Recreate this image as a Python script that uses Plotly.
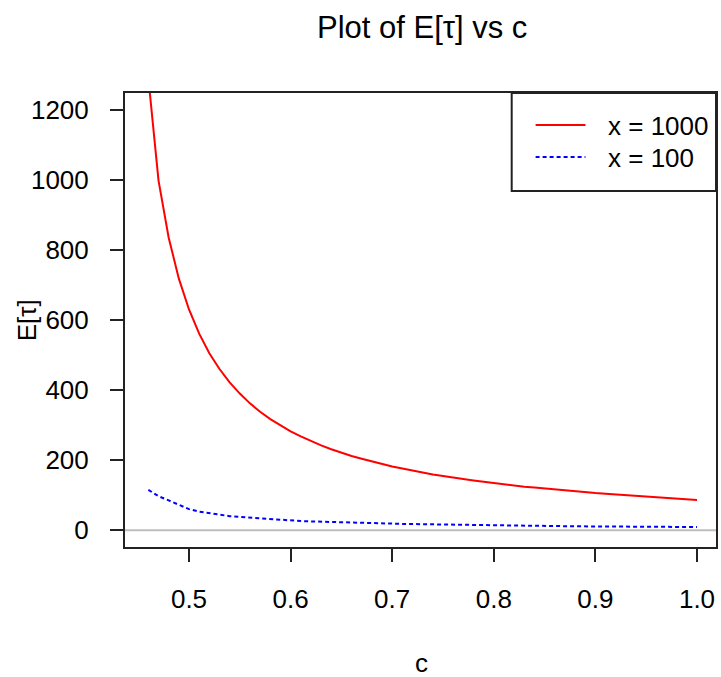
import plotly.graph_objects as go

# ---- data ----
c_vals = [0.46, 0.47, 0.48, 0.49, 0.50, 0.51, 0.52, 0.53, 0.54, 0.55,
          0.56, 0.57, 0.58, 0.59, 0.60, 0.61, 0.62, 0.63, 0.64, 0.65,
          0.66, 0.67, 0.68, 0.69, 0.70, 0.71, 0.72, 0.73, 0.74, 0.75,
          0.76, 0.77, 0.78, 0.79, 0.80, 0.81, 0.82, 0.83, 0.84, 0.85,
          0.86, 0.87, 0.88, 0.89, 0.90, 0.91, 0.92, 0.93, 0.94, 0.95,
          0.96, 0.97, 0.98, 0.99, 1.00]
e_tau_x1000 = [1290, 998, 835, 718, 630, 561, 505, 460, 422, 390,
               362, 338, 317, 299, 282, 268, 254, 242, 231, 221,
               212, 204, 196, 189, 182, 176, 170, 164, 159, 155,
               150, 146, 142, 138, 134, 131, 128, 124, 122, 119,
               116, 113, 111, 109, 106, 104, 102, 100, 98, 96,
               95, 93, 91, 89, 86]
e_tau_x100 = [115, 97, 85, 73, 60, 53, 48, 44, 40, 38,
              36, 33, 30, 29, 28, 26, 25, 24, 23, 22,
              21, 20, 19.5, 19, 18.5, 18, 17.5, 17, 16, 15.5,
              15, 14.7, 14.3, 14, 13.6, 13.3, 13, 12.6, 12.3, 12,
              11.7, 11.4, 11.1, 10.8, 10.6, 10.4, 10.2, 10, 9.8, 9.6,
              9.5, 9.3, 9.2, 9.1, 9]
x_ticks = [0.5, 0.6, 0.7, 0.8, 0.9, 1.0]
x_tick_labels = ["0.5", "0.6", "0.7", "0.8", "0.9", "1.0"]
y_ticks = [0, 200, 400, 600, 800, 1000, 1200]
y_tick_labels = ["0", "200", "400", "600", "800", "1000", "1200"]
legend_labels = ["x = 1000", "x = 100"]

FONT = "Liberation Sans, Arial, sans-serif"
FS = 26
W, H = 721, 677
L, R, T, B = 125, 3, 93, 130
PW, PH = W - L - R, H - T - B

def px_x(p):
    return (p - L) / PW

def px_y(p):
    return 1 - (p - T) / PH

fig = go.Figure()
fig.add_trace(go.Scatter(x=c_vals, y=e_tau_x1000, mode="lines", name=legend_labels[0],
                         line=dict(color="#ff0000", width=2), showlegend=False))
fig.add_trace(go.Scatter(x=c_vals, y=e_tau_x100, mode="lines", name=legend_labels[1],
                         line=dict(color="#0000ff", width=2, dash="4px,3px"), showlegend=False))

shapes = [
    # horizontal reference line at 0
    dict(type="line", xref="paper", yref="y", x0=0, x1=1, y0=0, y1=0,
         line=dict(color="#bebebe", width=2), layer="below"),
    # legend box
    dict(type="rect", xref="paper", yref="paper", x0=px_x(513), x1=1, y0=px_y(191), y1=1,
         line=dict(color="#222222", width=2), fillcolor="white", layer="above"),
    dict(type="line", xref="paper", yref="paper", x0=px_x(537), x1=px_x(587),
         y0=px_y(125), y1=px_y(125), line=dict(color="#ff0000", width=2), layer="above"),
    dict(type="line", xref="paper", yref="paper", x0=px_x(537), x1=px_x(587),
         y0=px_y(157), y1=px_y(157), line=dict(color="#0000ff", width=2, dash="4px,3px"), layer="above"),
]

annotations = [
    dict(text=legend_labels[0], xref="paper", yref="paper", x=px_x(608), y=px_y(126),
         xanchor="left", yanchor="middle", showarrow=False, font=dict(size=FS, color="black", family=FONT)),
    dict(text=legend_labels[1], xref="paper", yref="paper", x=px_x(608), y=px_y(158),
         xanchor="left", yanchor="middle", showarrow=False, font=dict(size=FS, color="black", family=FONT)),
    dict(text="E[τ]", xref="paper", yref="paper", x=px_x(27), y=0.5, textangle=-90,
         xanchor="center", yanchor="middle", showarrow=False, font=dict(size=FS, color="black", family=FONT)),
    dict(text="c", xref="paper", yref="paper", x=px_x(423), y=px_y(663),
         xanchor="center", yanchor="middle", showarrow=False, font=dict(size=FS, color="black", family=FONT)),
    dict(text="Plot of E[τ] vs c", xref="paper", yref="paper", x=px_x(423), y=px_y(28),
         xanchor="center", yanchor="middle", showarrow=False, font=dict(size=31, color="black", family=FONT)),
]

axis_common = dict(showgrid=False, zeroline=False, showline=True, mirror=True,
                   linecolor="#222222", linewidth=2, ticks="outside", ticklen=13,
                   tickwidth=2, tickcolor="#222222",
                   tickfont=dict(size=FS, color="black", family=FONT))

fig.update_layout(
    width=W, height=H,
    margin=dict(l=L, r=R, t=T, b=B),
    paper_bgcolor="white", plot_bgcolor="white",
    xaxis=dict(range=[0.437, 1.0187], tickvals=x_ticks, ticktext=x_tick_labels,
               ticklabelstandoff=15, **axis_common),
    yaxis=dict(range=[-48, 1248], tickvals=y_ticks, ticktext=y_tick_labels,
               ticklabelstandoff=16, **axis_common),
    shapes=shapes,
    annotations=annotations,
    showlegend=False,
)

fig.write_html("out.html")
